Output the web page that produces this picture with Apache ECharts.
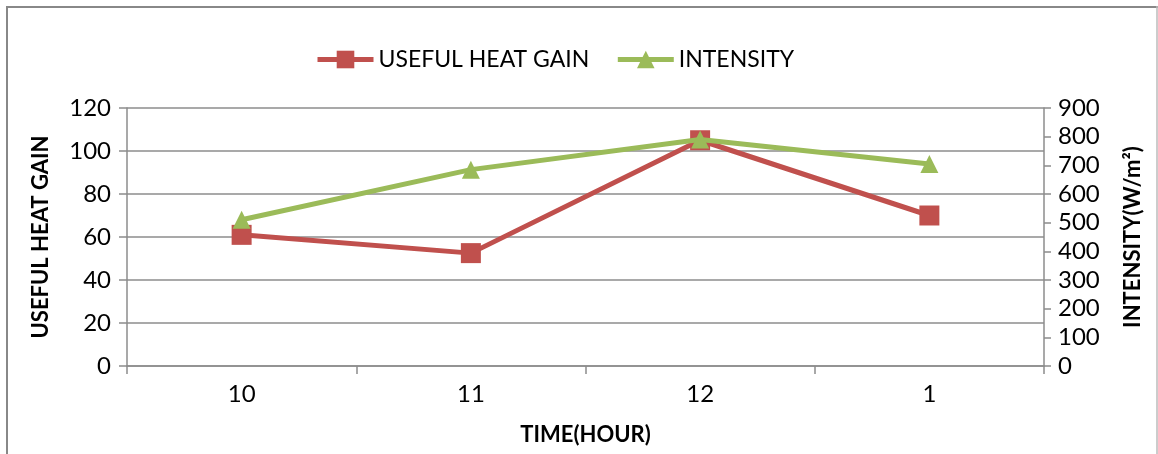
<!DOCTYPE html>
<html>
<head>
<meta charset="utf-8">
<script src="https://cdn.jsdelivr.net/npm/echarts@6/dist/echarts.min.js"></script>
<style>
html,body{margin:0;padding:0;background:#fff;}
#chart{width:1158px;height:454px;}
</style>
</head>
<body>
<div id="chart"></div>
<script>
const categories = ['10', '11', '12', '1'];
const usefulHeatGain = [61, 52.5, 105, 70];
const intensity = [510, 685, 790, 705];
const leftTicks = [0, 20, 40, 60, 80, 100, 120];
const rightTicks = [0, 100, 200, 300, 400, 500, 600, 700, 800, 900];

const FONT = 'Lato, "Open Sans", sans-serif';
const RED = '#C0504D';
const GREEN = '#9BBB59';
const GRID = '#8c8c8c';

const chart = echarts.init(document.getElementById('chart'), null, {renderer: 'canvas'});
chart.setOption({
  animation: false,
  backgroundColor: '#fff',
  textStyle: {fontFamily: FONT},
  legend: {
    top: 43,
    left: 310,
    itemWidth: 56,
    itemHeight: 22,
    itemGap: 26,
    lineStyle: {width: 5},
    textStyle: {fontSize: 23, color: '#000', fontFamily: FONT},
    data: ['USEFUL HEAT GAIN', 'INTENSITY']
  },
  grid: {left: 127, right: 114, top: 108, bottom: 88, containLabel: false},
  xAxis: {
    type: 'category',
    data: categories,
    boundaryGap: true,
    axisLine: {lineStyle: {color: GRID, width: 1.5}},
    axisTick: {show: true, length: 8, lineStyle: {color: GRID, width: 1.5}},
    axisLabel: {fontSize: 24, color: '#000', margin: 16, fontFamily: FONT},
    name: 'TIME(HOUR)',
    nameLocation: 'middle',
    nameGap: 58,
    nameTextStyle: {fontSize: 22, fontWeight: 'bold', color: '#000', fontFamily: FONT}
  },
  yAxis: [
    {
      type: 'value',
      min: 0, max: 120, interval: 20,
      position: 'left',
      axisLine: {show: true, lineStyle: {color: GRID, width: 1.5}},
      axisTick: {show: true, length: 8, lineStyle: {color: GRID, width: 1.5}},
      splitLine: {show: true, lineStyle: {color: GRID, width: 1.5}},
      axisLabel: {fontSize: 24, color: '#000', margin: 16, fontFamily: FONT,
        formatter: v => leftTicks.includes(v) ? String(v) : ''},
      name: 'USEFUL HEAT GAIN',
      nameLocation: 'middle',
      nameGap: 75,
      nameRotate: 90,
      nameTextStyle: {fontSize: 22, fontWeight: 'bold', color: '#000', fontFamily: FONT}
    },
    {
      type: 'value',
      min: 0, max: 900, interval: 100,
      position: 'right',
      axisLine: {show: true, lineStyle: {color: GRID, width: 1.5}},
      axisTick: {show: true, length: 7, lineStyle: {color: GRID, width: 1.5}},
      splitLine: {show: false},
      axisLabel: {fontSize: 24, color: '#000', margin: 14, fontFamily: FONT,
        formatter: v => rightTicks.includes(v) ? String(v) : ''},
      name: 'INTENSITY(W/m²)',
      nameLocation: 'middle',
      nameGap: 78,
      nameRotate: 90,
      nameTextStyle: {fontSize: 22, fontWeight: 'bold', color: '#000', fontFamily: FONT}
    }
  ],
  series: [
    {
      name: 'USEFUL HEAT GAIN',
      type: 'line',
      yAxisIndex: 0,
      data: usefulHeatGain,
      symbol: 'rect',
      symbolSize: 20,
      itemStyle: {color: RED},
      lineStyle: {color: RED, width: 5},
      z: 2
    },
    {
      name: 'INTENSITY',
      type: 'line',
      yAxisIndex: 1,
      data: intensity,
      symbol: 'triangle',
      symbolSize: [18, 18],
      itemStyle: {color: GREEN},
      lineStyle: {color: GREEN, width: 5},
      z: 3
    }
  ],
  graphic: [
    {type: 'line', shape: {x1: 7, y1: 6, x2: 7, y2: 454}, style: {stroke: '#888', lineWidth: 2}, silent: true},
    {type: 'line', shape: {x1: 6, y1: 7, x2: 1158, y2: 7}, style: {stroke: '#888', lineWidth: 2}, silent: true},
    {type: 'line', shape: {x1: 1157, y1: 6, x2: 1157, y2: 454}, style: {stroke: '#bbb', lineWidth: 1.5}, silent: true}
  ]
});
</script>
</body>
</html>
